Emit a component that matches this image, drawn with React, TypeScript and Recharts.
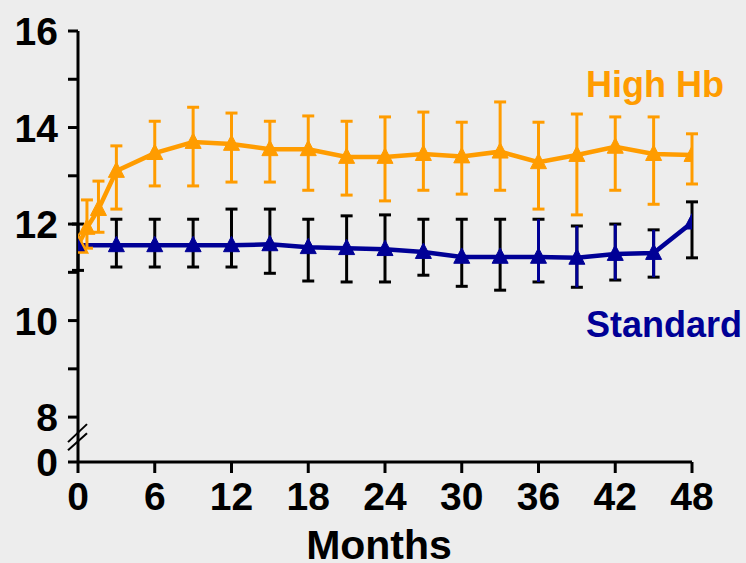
import { LineChart, Line, XAxis, YAxis, ErrorBar, ReferenceDot } from "recharts";

const ORANGE = "#ff9c00";
const NAVY = "#000096";
const BG = "#ededed";
const FONT = "'Liberation Sans', Arial, sans-serif";

// High Hb group
const highMonths = [0, 0.7, 1.6, 3, 6, 9, 12, 15, 18, 21, 24, 27, 30, 33, 36, 39, 42, 45, 48];
const highValues = [11.56, 11.92, 12.31, 13.1, 13.47, 13.7, 13.66, 13.55, 13.55, 13.39, 13.39, 13.45, 13.4, 13.5, 13.28, 13.43, 13.6, 13.45, 13.43];
const highUpper = [null, 12.5, 12.89, 13.62, 14.13, 14.42, 14.3, 14.13, 14.24, 14.13, 14.22, 14.32, 14.11, 14.53, 14.11, 14.28, 14.22, 14.22, 13.87];
const highLower = [null, 11.5, 11.83, 12.31, 12.79, 12.79, 12.87, 12.87, 12.7, 12.6, 12.48, 12.7, 12.62, 12.7, 12.31, 12.19, 12.7, 12.41, 12.83];

// Standard group
const stdMonths = [0, 3, 6, 9, 12, 15, 18, 21, 24, 27, 30, 33, 36, 39, 42, 45, 48];
const stdValues = [11.56, 11.56, 11.56, 11.56, 11.56, 11.58, 11.52, 11.5, 11.48, 11.42, 11.32, 11.32, 11.32, 11.3, 11.38, 11.4, 12.03];
const stdUpper = [12.0, 12.1, 12.1, 12.1, 12.31, 12.31, 12.1, 12.17, 12.19, 12.1, 12.1, 12.1, 12.1, 11.96, 12.0, 11.88, 12.46];
const stdLower = [11.04, 11.11, 11.11, 11.11, 11.11, 10.98, 10.82, 10.8, 10.8, 10.94, 10.71, 10.63, 10.8, 10.69, 10.84, 10.9, 11.3];
// months where the Standard error stem is drawn in navy instead of black
const stdNavyStems = [36, 39, 42, 45];

const xTicks = [0, 6, 12, 18, 24, 30, 36, 42, 48];
const yFloor = 7.07; // value sitting at the "0" position below the axis break
const yTicks = [yFloor, 8, 9, 10, 11, 12, 13, 14, 15, 16];
const yBreak = 7.585;

const highData = highMonths.map((m, i) => ({
  month: m,
  value: highValues[i],
  err:
    highUpper[i] == null
      ? null
      : [highValues[i] - (highLower[i] as number), (highUpper[i] as number) - highValues[i]],
}));

const stdData = stdMonths.map((m, i) => {
  const err = [stdValues[i] - stdLower[i], stdUpper[i] - stdValues[i]];
  return {
    month: m,
    value: stdValues[i],
    err,
    errNavy: stdNavyStems.includes(m) ? err : null,
  };
});

const triangleDot = (color: string, hollowFirst: boolean) => (props: any) => {
  const { cx, cy, index } = props;
  const hollow = hollowFirst && index === 0;
  const s = hollow ? 9 : 8;
  return (
    <path
      key={`tri-${color}-${index}`}
      d={`M${cx},${cy - s - 1}L${cx + s},${cy + s * 0.8}L${cx - s},${cy + s * 0.8}Z`}
      fill={hollow ? "none" : color}
      stroke={color}
      strokeWidth={hollow ? 2.5 : 1}
      strokeLinejoin="miter"
    />
  );
};

function YTick({ x, y, payload }: any) {
  const v = payload.value;
  const label = v < 8 ? "0" : v % 2 === 0 ? String(v) : "";
  if (!label) return <g />;
  return (
    <text x={x} y={y} dy="0.36em" textAnchor="end" fontFamily={FONT} fontWeight="bold" fontSize={39} fill="#000">
      {label}
    </text>
  );
}

function XTick({ x, y, payload }: any) {
  return (
    <text x={x} y={y} dy="0.72em" textAnchor="middle" fontFamily={FONT} fontWeight="bold" fontSize={39} fill="#000">
      {payload.value}
    </text>
  );
}

function BreakMark({ cx, cy }: any) {
  return (
    <g stroke="#000" strokeWidth={2}>
      <line x1={cx - 10} y1={cy + 5} x2={cx + 9} y2={cy - 13} />
      <line x1={cx - 10} y1={cy + 13} x2={cx + 9} y2={cy - 4} />
    </g>
  );
}

export default function App() {
  return (
    <div style={{ position: "absolute", left: 0, top: 0, width: 746, height: 563, background: BG }}>
      <LineChart width={746} height={563} margin={{ top: 31, right: 54, bottom: 0, left: 0 }}>
        <XAxis
          dataKey="month"
          type="number"
          domain={[0, 48]}
          ticks={xTicks}
          interval={0}
          height={101}
          tickSize={11}
          tickMargin={9}
          tick={<XTick />}
          axisLine={{ stroke: "#000", strokeWidth: 3 }}
          tickLine={{ stroke: "#000", strokeWidth: 3 }}
          allowDataOverflow
        />
        <YAxis
          type="number"
          domain={[yFloor, 16]}
          ticks={yTicks}
          interval={0}
          width={78}
          tickSize={10}
          tickMargin={10}
          tick={<YTick />}
          axisLine={{ stroke: "#000", strokeWidth: 3 }}
          tickLine={{ stroke: "#000", strokeWidth: 3 }}
          allowDataOverflow
        />
        <Line
          data={stdData}
          dataKey="value"
          type="linear"
          stroke={NAVY}
          strokeWidth={4.5}
          dot={triangleDot(NAVY, false)}
          activeDot={false}
          isAnimationActive={false}
        >
          <ErrorBar dataKey="err" direction="y" width={6} stroke="#000" strokeWidth={3} />
          <ErrorBar dataKey="errNavy" direction="y" width={0} stroke={NAVY} strokeWidth={3} />
        </Line>
        <Line
          data={highData}
          dataKey="value"
          type="linear"
          stroke={ORANGE}
          strokeWidth={4.5}
          dot={triangleDot(ORANGE, true)}
          activeDot={false}
          isAnimationActive={false}
        >
          <ErrorBar dataKey="err" direction="y" width={6} stroke={ORANGE} strokeWidth={3} />
        </Line>
        <ReferenceDot x={0} y={yBreak} shape={<BreakMark />} ifOverflow="visible" />
        <text x={586} y={97} fontFamily={FONT} fontWeight="bold" fontSize={36} fill={ORANGE}>
          High Hb
        </text>
        <text x={586} y={337} fontFamily={FONT} fontWeight="bold" fontSize={36} fill={NAVY}>
          Standard
        </text>
        <text x={379} y={559} textAnchor="middle" fontFamily={FONT} fontWeight="bold" fontSize={41} fill="#000">
          Months
        </text>
      </LineChart>
    </div>
  );
}
